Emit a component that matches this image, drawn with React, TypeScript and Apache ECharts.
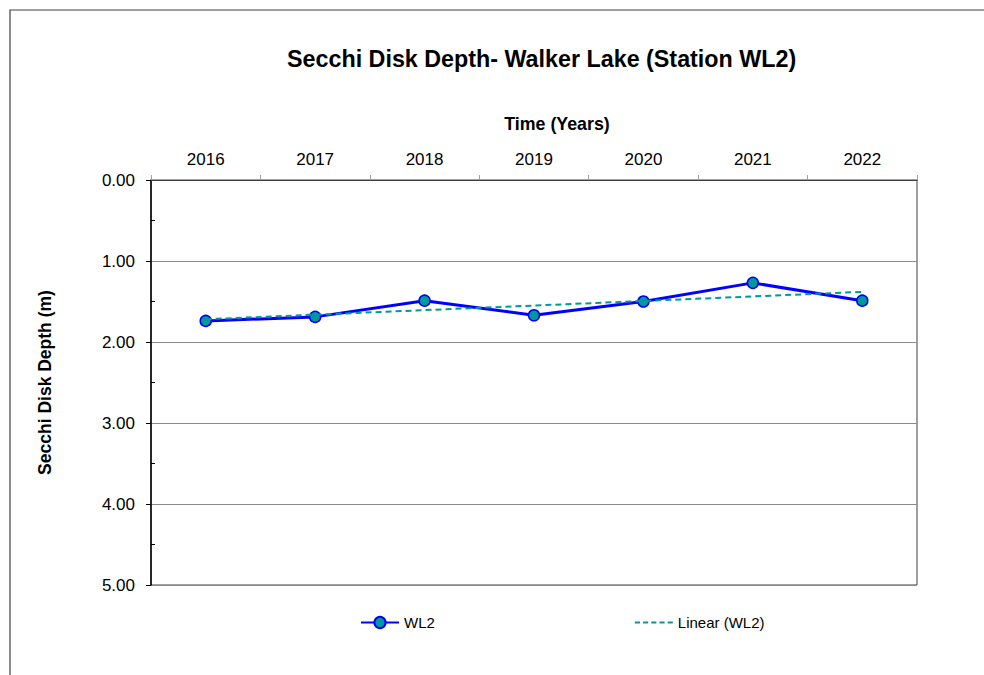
import React, { useEffect, useRef } from "react";
import * as echarts from "echarts";

const years = ["2016", "2017", "2018", "2019", "2020", "2021", "2022"];
const wl2Depth = [1.74, 1.69, 1.49, 1.67, 1.5, 1.27, 1.49];
const yTicks = [0, 1, 2, 3, 4, 5];
const yMinorTicks = [0.5, 1.5, 2.5, 3.5, 4.5];

function linearFit(values: number[]): number[] {
  const n = values.length;
  const xs = values.map((_, i) => i);
  const mx = xs.reduce((a, b) => a + b, 0) / n;
  const my = values.reduce((a, b) => a + b, 0) / n;
  let num = 0;
  let den = 0;
  for (let i = 0; i < n; i++) {
    num += (xs[i] - mx) * (values[i] - my);
    den += (xs[i] - mx) * (xs[i] - mx);
  }
  const slope = num / den;
  const intercept = my - slope * mx;
  return xs.map((x) => +(intercept + slope * x).toFixed(4));
}

const FONT = '"Liberation Sans", Arial, sans-serif';
const DASH_ICON =
  "path://M0,0h5v2h-5zM8,0h5v2h-5zM16,0h5v2h-5zM24,0h5v2h-5zM32,0h5v2h-5z";

export default function App() {
  const ref = useRef<HTMLDivElement>(null);
  useEffect(() => {
    if (!ref.current) return;
    const chart = echarts.init(ref.current, undefined, { renderer: "svg" });
    const trend = linearFit(wl2Depth);
    chart.setOption({
      animation: false,
      backgroundColor: "#ffffff",
      textStyle: { fontFamily: FONT },
      title: {
        text: "Secchi Disk Depth- Walker Lake (Station WL2)",
        left: 287,
        top: 47,
        padding: 0,
        textStyle: { fontFamily: FONT, fontSize: 23.3, fontWeight: "bold", color: "#000" },
      },
      graphic: [
        {
          type: "rect",
          shape: { x: 10, y: 10, width: 1000, height: 700 },
          style: { fill: "none", stroke: "#404040", lineWidth: 1.2 },
          silent: true,
        },
      ],
      legend: {
        left: 360,
        top: 615,
        itemWidth: 38,
        itemHeight: 14,
        itemGap: 200,
        padding: 0,
        textStyle: { fontFamily: FONT, fontSize: 15, color: "#000" },
        data: [
          { name: "WL2" },
          { name: "Linear (WL2)", icon: DASH_ICON, itemStyle: { color: "#009999" } },
        ],
      },
      grid: {
        left: 151,
        right: 67,
        top: 180,
        bottom: 90,
        show: true,
        borderColor: "#404040",
        borderWidth: 1,
        backgroundColor: "transparent",
      },
      xAxis: {
        type: "category",
        position: "top",
        data: years,
        boundaryGap: true,
        name: "Time (Years)",
        nameLocation: "middle",
        nameGap: 47,
        nameTextStyle: {
          fontFamily: FONT,
          fontSize: 17.8,
          fontWeight: "bold",
          color: "#000",
          padding: [0, 0, 0, 46],
        },
        axisLine: { show: true, lineStyle: { color: "#404040", width: 1 } },
        axisTick: { show: true, inside: false, length: 5, lineStyle: { color: "#a0a0a0" } },
        axisLabel: { fontFamily: FONT, fontSize: 17, color: "#000", margin: 12 },
        splitLine: { show: false },
      },
      yAxis: [
        {
          type: "value",
          inverse: true,
          min: 0,
          max: 5,
          interval: 1,
          name: "Secchi Disk Depth (m)",
          nameLocation: "middle",
          nameRotate: 90,
          nameGap: 97,
          nameTextStyle: { fontFamily: FONT, fontSize: 17.5, fontWeight: "bold", color: "#000" },
          axisLine: { show: true, lineStyle: { color: "#000", width: 1.5 } },
          axisTick: { show: true, inside: false, length: 5, lineStyle: { color: "#000" } },
          axisLabel: {
            fontFamily: FONT,
            fontSize: 17,
            color: "#000",
            margin: 16,
            customValues: yTicks,
            formatter: (v: number) => v.toFixed(2),
          },
          splitLine: { show: true, lineStyle: { color: "#8c8c8c", width: 1 } },
        },
        {
          type: "value",
          inverse: true,
          min: 0,
          max: 5,
          position: "left",
          axisLine: { show: false },
          axisLabel: { show: false },
          splitLine: { show: false },
          axisTick: {
            show: true,
            inside: true,
            length: 4,
            customValues: yMinorTicks,
            lineStyle: { color: "#000" },
          },
        },
      ],
      series: [
        {
          name: "WL2",
          type: "line",
          data: wl2Depth,
          yAxisIndex: 0,
          symbol: "circle",
          symbolSize: 11,
          lineStyle: { color: "#0000ff", width: 3 },
          itemStyle: { color: "#009999", borderColor: "#0000ff", borderWidth: 1.5 },
          z: 3,
        },
        {
          name: "Linear (WL2)",
          type: "line",
          data: trend,
          yAxisIndex: 0,
          showSymbol: false,
          symbol: "none",
          lineStyle: { color: "#009999", width: 2, type: [6, 4] },
          itemStyle: { color: "#009999" },
          z: 4,
        },
      ],
    });
    return () => chart.dispose();
  }, []);
  return (
    <div
      ref={ref}
      style={{ position: "fixed", left: 0, top: 0, width: 984, height: 675 }}
    />
  );
}
